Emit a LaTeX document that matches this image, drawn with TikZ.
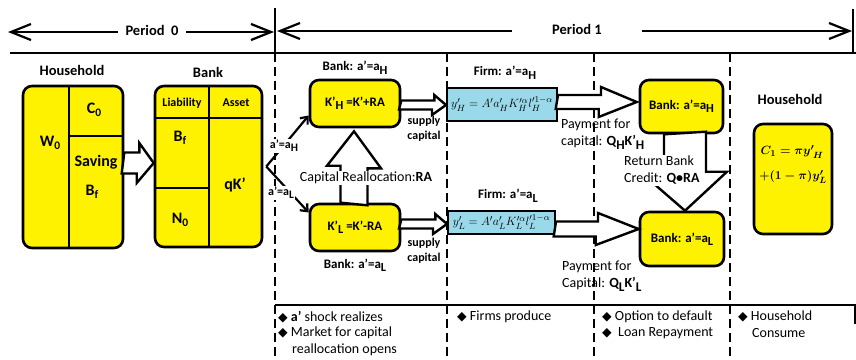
\documentclass[tikz,border=0pt]{standalone}
\usepackage{fontspec}
\usepackage{amsmath}
\usepackage{graphicx}
\setmainfont{Carlito}
\newfontfamily\symfont{DejaVu Sans}
\usetikzlibrary{arrows.meta,calc}
\definecolor{ylw}{RGB}{255,242,0}
\definecolor{cyn}{RGB}{153,217,234}
\newcommand\lsub[1]{\raisebox{-0.45ex}{\scalebox{0.72}{#1}}}
\newcommand\hsub[1]{\raisebox{-0.55ex}{\scalebox{0.95}{#1}}}
\newcommand\dia{{\symfont\fontsize{12.5}{12.5}\selectfont ◆}}
\begin{document}
\begin{tikzpicture}[x=1pt,y=-1pt,
 ybox/.style={draw, line width=2.6pt, fill=ylw, rounded corners=9pt, inner sep=0pt},
 cbox/.style={draw, line width=2pt, fill=cyn, inner sep=0pt},
 hollow/.style={draw, line width=2.4pt, fill=white, line join=miter},
 dline/.style={line width=2.2pt, dash pattern=on 9pt off 5pt},
 solid2/.style={line width=2.2pt},
 bar/.style={line width=2.6pt},
 hdr/.style={font=\fontsize{14.5}{16}\selectfont\bfseries, inner sep=1pt},
 lbl/.style={font=\fontsize{13}{15}\selectfont\bfseries, inner sep=1pt},
 big/.style={font=\fontsize{16}{18}\selectfont\bfseries, inner sep=0pt},
 txt/.style={font=\fontsize{14}{16}\selectfont, anchor=west, inner sep=0pt},
 small/.style={font=\fontsize{12}{15}\selectfont\bfseries, inner sep=0pt, align=center},
 barb/.style={line width=2.2pt, arrows={Straight Barb[length=20pt,width=16pt]-Straight Barb[length=20pt,width=16pt]}},
 sarr/.style={line width=2.2pt, -{Straight Barb[length=6pt,width=10pt]}},
]
\useasboundingbox (0,0) rectangle (856,359);

% ---- period axis
\coordinate (p0L) at (8,32); \coordinate (p0R) at (274,32);
\coordinate (p1L) at (277,31); \coordinate (p1R) at (852,31);
\draw[barb] (p0L) -- (p0R);
\draw[barb] (p1L) -- (p1R);
\node[hdr, fill=white, inner xsep=8pt] (per0) at (152,30) {Period\ \ 0};
\node[hdr, fill=white, inner xsep=40pt] (per1) at (577,29) {Period 1};
\draw[solid2] (275,8) -- (275,53);
\draw[solid2] (853,9) -- (853,53);
\draw[solid2] (10,53) -- (856,53);
\draw[dline] (275,53) -- (275,359);
\draw[dline] (447,53) -- (447,359);
\draw[dline] (594,53) -- (594,359);
\draw[dline] (730,53) -- (730,359);
\draw[solid2] (275,305) -- (856,305);
\draw[solid2] (855,305) -- (855,324);

% ---- period 0 household
\node[hdr] (hh0t) at (72,70) {Household};
\node[ybox, minimum width=100pt, minimum height=162pt] (hh0) at (73,167) {};
\draw[bar] (69,86) -- (69,248);
\draw[bar] (69,136) -- (123,136);
\node[big] (w0) at (50,143) {W\lsub{0}};
\node[big] (c0) at (94,110) {C\lsub{0}};
\node[big] (sav) at (96,162) {Saving};
\node[big] (bf0) at (92,192) {B\lsub{f}};

% ---- period 0 bank
\node[hdr] (bk0t) at (208,72) {Bank};
\node[ybox, minimum width=107pt, minimum height=161pt] (bk0) at (208.5,166.5) {};
\draw[bar] (209,86) -- (209,247);
\draw[bar] (155,118) -- (262,118);
\draw[bar] (155,188) -- (209,188);
\node[small] (liab) at (182,103) {Liability};
\node[small] (asst) at (236,103) {Asset};
\node[big] (bf1) at (180,138) {B\lsub{f}};
\node[big] (qk) at (235,185) {qK'};
\node[big] (n0) at (180,220) {N\lsub{0}};

% hollow arrow household -> bank
\coordinate (a1s) at ($(hh0.east)+(0,-4)$);
\coordinate (a1e) at ($(bk0.west)+(0,-3.5)$);
\draw[hollow] (a1s) ++(0,-10.5) -- ++(15,0) -- ++(0,-9.5) -- (a1e) -- ++(-17,20) -- ++(0,-9.5) -- ++(-15,0) -- cycle;

% ---- period 1 banks (capital reallocation)
\node[lbl] (bHt) at (355,68) {Bank: a'=a\hsub{H}};
\node[ybox, minimum width=90pt, minimum height=47pt, font=\fontsize{13}{15}\selectfont\bfseries] (bH) at (355,103.5) {K'\hsub{H} =K'+RA};
\node[ybox, minimum width=90pt, minimum height=47pt, font=\fontsize{13}{15}\selectfont\bfseries] (bL) at (355,227.5) {K'\hsub{L} =K'-RA};
\node[lbl] (bLt) at (355,265) {Bank: a'=a\hsub{L}};

% shock arrows
\coordinate (sv) at ($(bk0.east)+(3,0)$);
\draw[sarr] (sv) -- ($(bH.west)+(0,12)$);
\draw[sarr] (sv) -- ($(bL.west)+(0,-15)$);
\node[lbl, fill=white, font=\fontsize{12}{14}\selectfont\bfseries] (aH) at (284,146) {a'=a\hsub{H}};
\node[lbl, fill=white, font=\fontsize{12}{14}\selectfont\bfseries] (aL) at (281,193) {a'=a\hsub{L}};

% capital reallocation hollow arrow
\coordinate (s5) at ($(bL.north)+(-1,0)$);
\coordinate (e5) at ($(bH.south)+(-1,3)$);
\draw[hollow] (s5) ++(-13.5,0) -- ++(0,-37) -- ++(-13.5,0) -- (e5) -- ++(27,37) -- ++(-13.5,0) -- ++(0,37) -- cycle;
\node[font=\fontsize{14}{16}\selectfont, fill=white, inner sep=1pt] (cra) at (366,178) {Capital Reallocation:\textbf{RA}};

% ---- firms
\node[lbl] (fHt) at (505,73) {Firm: a'=a\hsub{H}};
\node[cbox, minimum width=110pt, minimum height=33pt, font=\fontsize{12.3}{14}\selectfont] (fH) at (502,104.5) {$y'_H = A'a'_H K'^{\alpha}_H l'^{1-\alpha}_H$};
\node[lbl] (fLt) at (508,196) {Firm: a'=a\hsub{L}};
\node[cbox, minimum width=107pt, minimum height=23pt, font=\fontsize{12.3}{14}\selectfont] (fL) at (501.5,222.5) {$y'_L = A'a'_L K'^{\alpha}_L l'^{1-\alpha}_L$};

% supply capital arrows
\coordinate (s1) at ($(bH.east)+(0,1.5)$);
\coordinate (e1) at ($(fH.west)+(0,0.5)$);
\draw[hollow] (s1) ++(0,-4.5) -- ++(33,0) -- ++(0,-5.5) -- (e1) -- ++(-14,10) -- ++(0,-5.5) -- ++(-33,0) -- cycle;
\coordinate (s2) at ($(bL.east)+(0,-3.5)$);
\coordinate (e2) at ($(fL.west)+(0,1.5)$);
\draw[hollow] (s2) ++(0,-4.5) -- ++(34,0) -- ++(0,-5.5) -- (e2) -- ++(-14,10) -- ++(0,-5.5) -- ++(-34,0) -- cycle;
\node[small] (sup1) at (424,128.5) {supply\\capital};
\node[small] (sup2) at (424,250.5) {supply\\capital};

% ---- col 3 banks
\node[ybox, minimum width=83pt, minimum height=53pt, font=\fontsize{13}{15}\selectfont\bfseries] (cH) at (681.5,106.5) {Bank: a'=a\hsub{H}};
\node[ybox, minimum width=84pt, minimum height=54pt, font=\fontsize{13}{15}\selectfont\bfseries] (cL) at (682,239) {Bank: a'=a\hsub{L}};

% payment arrows
\coordinate (s3) at ($(fH.east)+(0,-2.5)$);
\coordinate (e3) at ($(cH.west)+(-2,-4.5)$);
\draw[hollow] (s3) ++(0,-7) -- ++(43,0) -- ++(0,-8) -- (e3) -- ++(-38,15) -- ++(0,-8) -- ++(-43,0) -- cycle;
\coordinate (s4) at ($(fL.east)+(0,6.5)$);
\coordinate (e4) at ($(cL.west)+(0,-10)$);
\draw[hollow] (s4) ++(0,-7.5) -- ++(42,0) -- ++(0,-8.5) -- (e4) -- ++(-43,16) -- ++(0,-8.5) -- ++(-42,0) -- cycle;
\node[font=\fontsize{14}{17}\selectfont, align=left, anchor=north west, inner sep=0pt] (pay1) at (561,119) {Payment for\\capital: \textbf{Q\hsub{H}K'\hsub{H}}};
\node[font=\fontsize{14}{17}\selectfont, align=left, anchor=north west, inner sep=0pt] (pay2) at (562,261) {Payment for\\Capital: \textbf{Q\hsub{L}K'\hsub{L}}};

% return bank credit arrow
\coordinate (s6) at ($(cH.south)+(3.5,0)$);
\coordinate (e6) at ($(cL.north)+(3,0)$);
\draw[hollow] (s6) ++(-21,0) -- ++(0,40) -- ++(-21,0) -- (e6) -- ++(42,-39) -- ++(-21,0) -- ++(0,-40) -- cycle;
\node[font=\fontsize{14}{17}\selectfont, align=left, anchor=north west, fill=white, inner sep=1pt] (rbc) at (623,155) {Return Bank\\Credit: \textbf{Q\textbullet RA}};

% ---- period 1 household
\node[hdr] (hh1t) at (790,99) {Household};
\node[ybox, minimum width=78pt, minimum height=110pt] (hh1) at (793,179) {};
\node[font=\fontsize{12.5}{14}\selectfont, inner sep=0pt] (c1a) at (792,152) {$\boldsymbol{C_1 = \pi y'_{\;H}}$};
\node[font=\fontsize{12.5}{14}\selectfont, inner sep=0pt] (c1b) at (793,177) {$\boldsymbol{+(1-\pi)y'_L}$};

% ---- bottom texts
\node[txt] (n1) at (278,317) {\dia\ \textbf{a'} shock realizes};
\node[txt] (n2) at (278,333) {\dia\ Market for capital};
\node[txt] (n3) at (292,350) {reallocation opens};
\node[txt] (n4) at (457,317) {\dia\ Firms produce};
\node[txt] (n5) at (602,317) {\dia\ Option to default};
\node[txt] (n6) at (602,333) {\dia\ \ Loan Repayment};
\node[txt] (n7) at (738,316) {\dia\ Household};
\node[txt] (n8) at (752,333) {Consume};
\end{tikzpicture}
\end{document}
